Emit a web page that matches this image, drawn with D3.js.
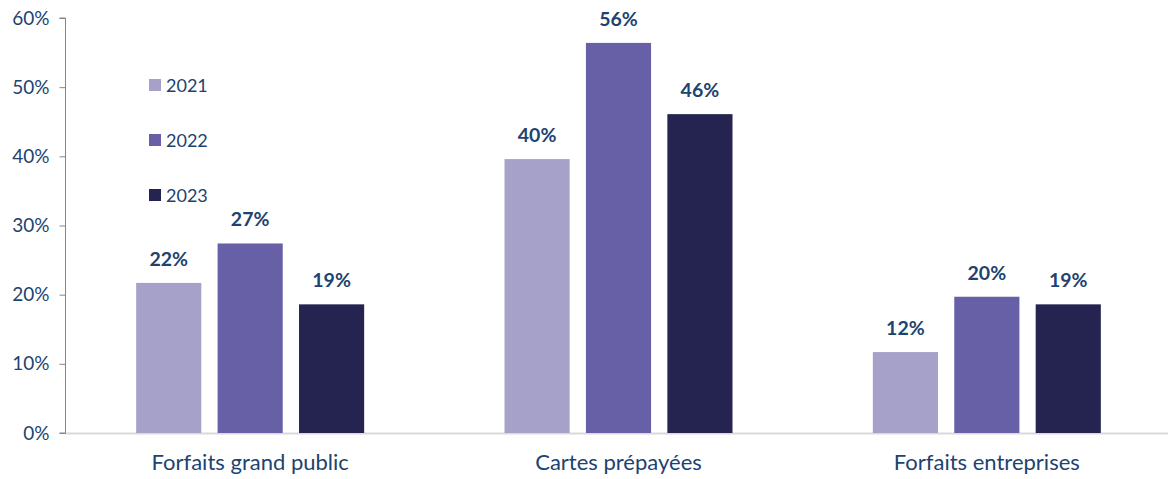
<!DOCTYPE html>
<html><head><meta charset="utf-8">
<script src="https://cdn.jsdelivr.net/npm/d3@7"></script>
<style>body{margin:0;background:#fff;} svg{display:block;font-family:Lato,sans-serif;}</style>
</head><body><svg id="c" width="1168" height="479"></svg>
<script>
const categories = ["Forfaits grand public", "Cartes prépayées", "Forfaits entreprises"];
const years = ["2021", "2022", "2023"];
const v2021 = [21.7, 39.6, 11.7];
const v2022 = [27.4, 56.4, 19.7];
const v2023 = [18.6, 46.1, 18.6];
const yTicks = [0, 10, 20, 30, 40, 50, 60];
const colors = ["#a5a1c9", "#6760a6", "#252350"];
const series = [v2021, v2022, v2023];

(function () {
const svg = d3.select("#c");
const mLeft = 65, mRight = 1170, mTop = 18, mBottom = 433;
const y = d3.scaleLinear().domain([0, 60]).range([mBottom, mTop]);
const x0 = d3.scaleBand().domain(categories).range([mLeft + 1, mRight + 1]);
const groupW = 228;
const x1 = d3.scaleBand().domain(years).range([0, groupW]).paddingInner(0.2);
const textCol = "#1d4370";

svg.append("line").attr("x1", mLeft).attr("x2", 1168).attr("y1", mBottom + 0.5).attr("y2", mBottom + 0.5)
  .attr("stroke", "#d9d9d9").attr("stroke-width", 2);

categories.forEach((c, ci) => {
  const gx = x0(c) + (x0.bandwidth() - groupW) / 2;
  years.forEach((yr, si) => {
    const val = series[si][ci];
    svg.append("rect").attr("x", gx + x1(yr)).attr("width", x1.bandwidth())
      .attr("y", y(val)).attr("height", mBottom - y(val)).attr("fill", colors[si]);
    svg.append("text").attr("x", gx + x1(yr) + x1.bandwidth() / 2).attr("y", y(val) - 17)
      .attr("text-anchor", "middle").attr("font-weight", "bold").attr("font-size", 19.5)
      .attr("fill", textCol).text(Math.round(val) + "%");
  });
});

const yAxis = d3.axisLeft(y).tickValues(yTicks).tickFormat(d => d + "%").tickSize(6).tickPadding(10);
const ga = svg.append("g").attr("transform", `translate(${mLeft + 0.5},0)`).call(yAxis);
ga.selectAll("path,line").attr("stroke", "#868686");
ga.select(".domain").attr("d", `M-6,${mTop}H0V${mBottom}H-6`);
ga.selectAll("text").attr("font-size", 19).attr("fill", textCol).attr("font-family", "Lato, sans-serif");

const xAxis = d3.axisBottom(x0).tickSize(0).tickPadding(0);
const gxa = svg.append("g").attr("transform", `translate(0,${mBottom})`).call(xAxis);
gxa.select(".domain").remove();
gxa.selectAll("text").attr("font-size", 22).attr("fill", textCol).attr("font-family", "Lato, sans-serif")
  .attr("dy", null).attr("y", 470 - mBottom);

years.forEach((yr, i) => {
  const ly = 79 + i * 55;
  svg.append("rect").attr("x", 149).attr("y", ly).attr("width", 12).attr("height", 12).attr("fill", colors[i]);
  svg.append("text").attr("x", 166).attr("y", ly + 12.5).attr("font-size", 18).attr("fill", textCol).text(yr);
});
})();
</script></body></html>
